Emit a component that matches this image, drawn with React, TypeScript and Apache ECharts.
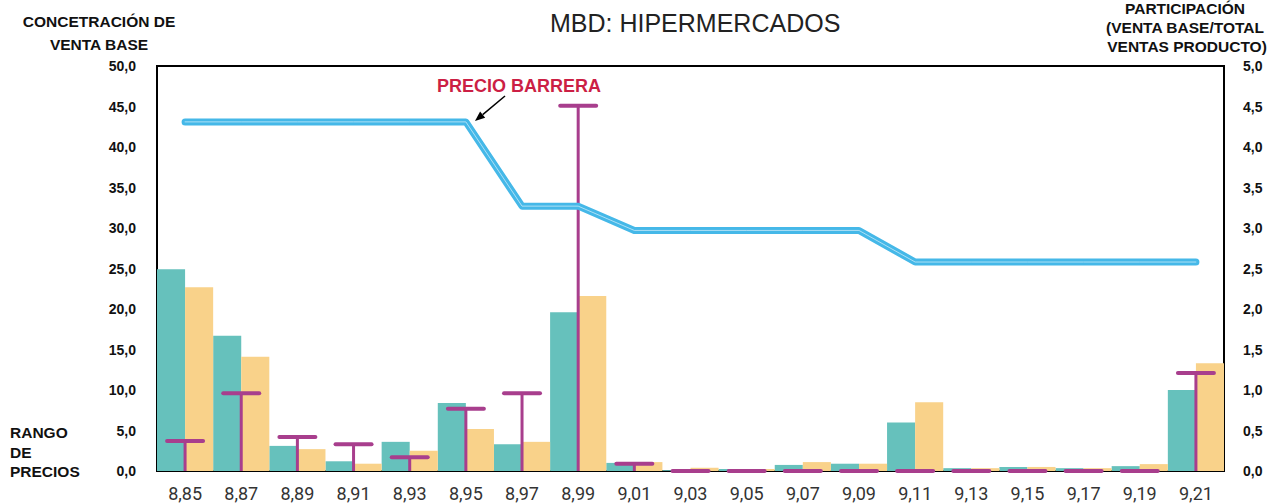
import React, { useEffect, useRef } from "react";
import * as echarts from "echarts";

const categories = ["8,85", "8,87", "8,89", "8,91", "8,93", "8,95", "8,97", "8,99", "9,01", "9,03", "9,05", "9,07", "9,09", "9,11", "9,13", "9,15", "9,17", "9,19", "9,21"];
// Concentración de venta base (left axis)
const tealValues = [24.9, 16.7, 3.1, 1.2, 3.6, 8.4, 3.3, 19.6, 1.0, 0.1, 0.25, 0.75, 0.9, 6.0, 0.35, 0.5, 0.35, 0.6, 10.0];
const orangeValues = [22.7, 14.1, 2.7, 0.9, 2.5, 5.2, 3.6, 21.6, 1.1, 0.4, 0.25, 1.1, 0.9, 8.5, 0.35, 0.5, 0.35, 0.85, 13.3];
// Participación (right axis)
const rangoValues = [0.37, 0.96, 0.42, 0.33, 0.17, 0.77, 0.96, 4.51, 0.09, 0, 0, 0, 0, 0, 0, 0, 0, 0, 1.21];
// Precio barrera (left axis)
const barreraValues = [43.1, 43.1, 43.1, 43.1, 43.1, 43.1, 32.7, 32.7, 29.7, 29.7, 29.7, 29.7, 29.7, 25.8, 25.8, 25.8, 25.8, 25.8, 25.8];
const leftTicks = { min: 0, max: 50, interval: 5 };
const rightTicks = { min: 0, max: 5, interval: 0.5 };

const fmt = (v: number) => v.toFixed(1).replace(".", ",");

export default function App() {
  const ref = useRef<HTMLDivElement>(null);
  useEffect(() => {
    if (!ref.current) return;
    const chart = echarts.init(ref.current, undefined, { renderer: "svg" });
    const boldFont = "Liberation Sans";
    const headerStyle = { fontFamily: boldFont, fontWeight: "bold", fontSize: 15.5, fill: "#111", align: "center", verticalAlign: "middle" };
    const option: any = {
      animation: false,
      backgroundColor: "#fff",
      title: {
        text: "MBD: HIPERMERCADOS",
        left: 545,
        top: 5,
        textStyle: { fontFamily: "Liberation Sans", fontWeight: "normal", fontSize: 25, color: "#222" },
      },
      grid: { left: 157, right: 48, top: 66, bottom: 32, show: true, borderColor: "#000", borderWidth: 2, backgroundColor: "transparent" },
      xAxis: {
        type: "category",
        data: categories,
        boundaryGap: true,
        axisLine: { show: true, lineStyle: { color: "#000", width: 2 } },
        axisTick: { show: false },
        axisLabel: { interval: 0, margin: 13, fontFamily: "Roboto", fontSize: 18, color: "#333" },
      },
      yAxis: [
        {
          type: "value",
          ...leftTicks,
          position: "left",
          axisLine: { show: true, lineStyle: { color: "#000", width: 2 } },
          axisTick: { show: false },
          splitLine: { show: false },
          axisLabel: { margin: 21, fontFamily: boldFont, fontWeight: "bold", fontSize: 14, color: "#111", formatter: fmt },
        },
        {
          type: "value",
          ...rightTicks,
          position: "right",
          axisLine: { show: true, lineStyle: { color: "#000", width: 2 } },
          axisTick: { show: false },
          splitLine: { show: false },
          axisLabel: { margin: 19, fontFamily: boldFont, fontWeight: "bold", fontSize: 14, color: "#111", formatter: fmt },
        },
      ],
      series: [
        {
          type: "bar",
          name: "A",
          data: tealValues,
          barGap: "0%",
          barCategoryGap: "0%",
          itemStyle: { color: "#66c1bc" },
          z: 2,
        },
        {
          type: "bar",
          name: "B",
          data: orangeValues,
          barGap: "0%",
          barCategoryGap: "0%",
          itemStyle: { color: "#f9d28a" },
          z: 2,
        },
        {
          type: "custom",
          name: "Rango",
          yAxisIndex: 1,
          data: rangoValues.map((v, i) => [i, v]),
          encode: { x: 0, y: 1 },
          z: 4,
          renderItem: (params: any, api: any) => {
            const idx = api.value(0);
            const v = api.value(1);
            const top = api.coord([idx, v]);
            const base = api.coord([idx, 0]);
            const half = 18;
            const color = "#a83e8d";
            return {
              type: "group",
              children: [
                {
                  type: "line",
                  shape: { x1: top[0], y1: top[1], x2: base[0], y2: base[1] },
                  style: { stroke: color, lineWidth: 3 },
                },
                {
                  type: "line",
                  shape: { x1: top[0] - half, y1: top[1], x2: top[0] + half, y2: top[1] },
                  style: { stroke: color, lineWidth: 4, lineCap: "round" },
                },
              ],
            };
          },
        },
        {
          type: "line",
          name: "Precio barrera",
          data: barreraValues,
          symbol: "none",
          z: 5,
          lineStyle: { color: "#45b8e8", width: 7, cap: "round", join: "round" },
        },
        {
          type: "line",
          name: "Precio barrera borde",
          data: barreraValues,
          symbol: "none",
          z: 6,
          lineStyle: { color: "#dff3fc", width: 0.8, cap: "round", join: "round", opacity: 0.85 },
        },
      ],
      graphic: [
        { type: "text", x: 99, y: 21, style: { ...headerStyle, text: "CONCETRACIÓN DE" } },
        { type: "text", x: 99, y: 44, style: { ...headerStyle, text: "VENTA BASE" } },
        { type: "text", x: 1185, y: 8, style: { ...headerStyle, text: "PARTICIPACIÓN" } },
        { type: "text", x: 1185, y: 27, style: { ...headerStyle, text: "(VENTA BASE/TOTAL" } },
        { type: "text", x: 1187, y: 46, style: { ...headerStyle, text: "VENTAS PRODUCTO)" } },
        { type: "text", x: 10, y: 432, style: { ...headerStyle, align: "left", text: "RANGO" } },
        { type: "text", x: 10, y: 452, style: { ...headerStyle, align: "left", text: "DE" } },
        { type: "text", x: 10, y: 471, style: { ...headerStyle, align: "left", text: "PRECIOS" } },
        {
          type: "text",
          x: 519,
          y: 86,
          z: 10,
          style: { fontFamily: boldFont, fontWeight: "bold", fontSize: 18, fill: "#cc1f45", align: "center", verticalAlign: "middle", text: "PRECIO BARRERA" },
        },
        {
          type: "line",
          z: 10,
          shape: { x1: 505, y1: 96, x2: 482.7, y2: 114.6 },
          style: { stroke: "#000", lineWidth: 1.5 },
        },
        {
          type: "polygon",
          z: 10,
          shape: { points: [[475, 121], [485.2, 117.7], [480.1, 111.5]] },
          style: { fill: "#000" },
        },
      ],
    };
    chart.setOption(option);
    return () => chart.dispose();
  }, []);
  return <div ref={ref} style={{ position: "fixed", left: 0, top: 0, width: 1272, height: 503 }} />;
}
